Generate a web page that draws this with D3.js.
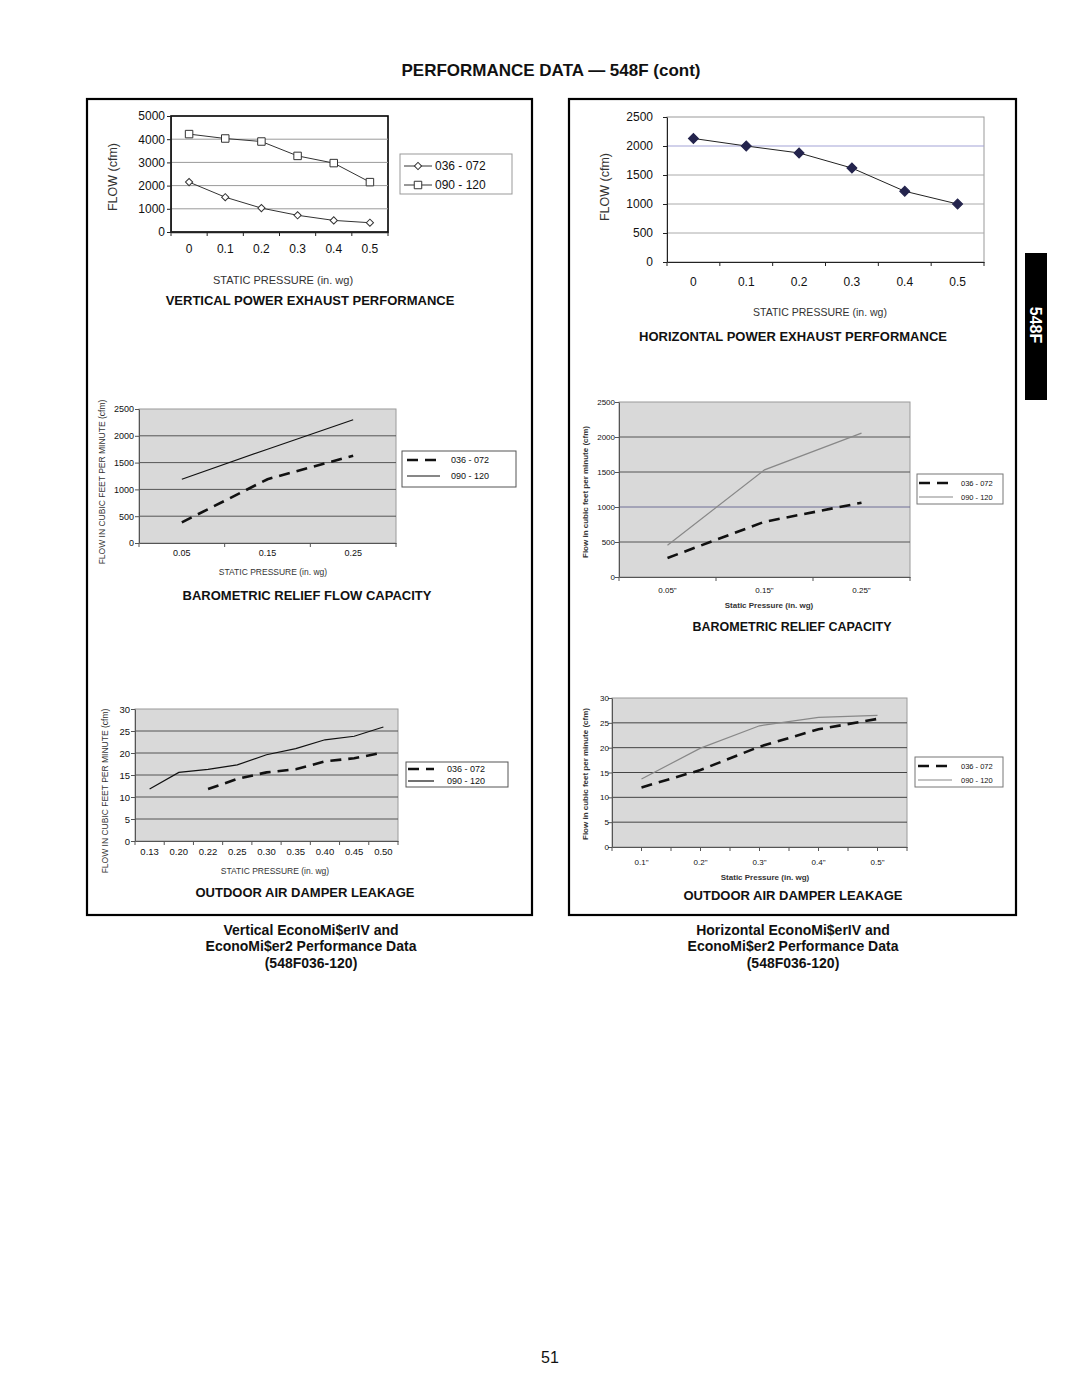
<!DOCTYPE html>
<html>
<head>
<meta charset="utf-8">
<title>Performance Data 548F</title>
<script src="https://d3js.org/d3.v7.min.js"></script>
<style>
    body { margin: 0; background: #fff; }
    svg text { font-family: "Liberation Sans", Arial, Helvetica, sans-serif; fill: #111; }
    .ttl { font-weight: bold; text-anchor: middle; }
    .cap { font-weight: bold; text-anchor: middle; font-size: 14px; }
</style>
</head>
<body>
<script>
// ---- data ----
var vpePressure = ["0", "0.1", "0.2", "0.3", "0.4", "0.5"];
var vpe036 = [2150, 1500, 1030, 720, 500, 400];
var vpe090 = [4220, 4030, 3900, 3280, 2970, 2150];

var hpePressure = ["0", "0.1", "0.2", "0.3", "0.4", "0.5"];
var hpeFlow = [2130, 2000, 1880, 1620, 1220, 1000];

var vbrPressure = ["0.05", "0.15", "0.25"];
var vbr036 = [385, 1190, 1630];
var vbr090 = [1190, 1750, 2300];

var hbrPressure = ['0.05"', '0.15"', '0.25"'];
var hbr036 = [272, 789, 1061];
var hbr090 = [454, 1530, 2055];

var vodPressure = ["0.13", "0.20", "0.22", "0.25", "0.30", "0.35", "0.40", "0.45", "0.50"];
var vod036 = [null, null, 11.8, 14.1, 15.6, 16.3, 18.1, 18.8, 20.1];
var vod090 = [11.8, 15.6, 16.3, 17.3, 19.6, 21.0, 23.0, 23.8, 25.9];

var hodPressure = ['0.1"', '0.2"', '0.3"', '0.4"', '0.5"'];
var hod036 = [12.0, 15.5, 20.2, 23.7, 25.8];
var hod090 = [13.7, 19.9, 24.4, 26.1, 26.5];

var seriesNames = ["036 - 072", "090 - 120"];

var svg = d3.select('body').append('svg')
    .attr('width', 1080)
    .attr('height', 1397);

svg.append('rect').attr('width', 1080).attr('height', 1397).attr('fill', '#fff');

// page heading
svg.append('text').attr('class', 'ttl')
    .attr('x', 551).attr('y', 76).attr('font-size', 17)
    .text('PERFORMANCE DATA \u2014 548F (cont)');

// panels
[[87, 99, 445, 816], [569, 99, 447, 816]].forEach(function(p) {
    svg.append('rect').attr('x', p[0]).attr('y', p[1]).attr('width', p[2]).attr('height', p[3])
        .attr('fill', 'none').attr('stroke', '#000').attr('stroke-width', 2.2);
});

// side tab
svg.append('rect').attr('x', 1025).attr('y', 253).attr('width', 22).attr('height', 147).attr('fill', '#000');
svg.append('text').attr('transform', 'translate(1036,325) rotate(90)')
    .attr('text-anchor', 'middle').attr('dy', '0.35em')
    .attr('font-size', 16).attr('font-weight', 'bold').style('fill', '#fff')
    .text('548F');

function marker(sel, type, size, fill, stroke) {
    var sym = d3.symbol().type(d3.symbolSquare).size(size);
    sel.attr('d', sym())
        .attr('fill', fill).attr('stroke', stroke).attr('stroke-width', 1);
    if (type == 'diamond') sel.attr('transform', sel.attr('transform') + ' rotate(45)');
}

function drawChart(c) {
    var g = svg.append('g');
    var x = d3.scaleBand().domain(c.cats).range([c.left, c.right]);
    var y = d3.scaleLinear().domain([0, c.yMax]).range([c.bottom, c.top]);
    var ticks = d3.range(0, c.yMax + c.yStep / 2, c.yStep);

    g.append('rect')
        .attr('x', c.left).attr('y', c.top)
        .attr('width', c.right - c.left).attr('height', c.bottom - c.top)
        .attr('fill', c.bg).attr('stroke', c.border).attr('stroke-width', c.borderW);

    g.selectAll('.grid').data(ticks.filter(function(t) { return t > 0 && t < c.yMax; }))
        .enter().append('line')
        .attr('x1', c.left).attr('x2', c.right)
        .attr('y1', function(d) { return y(d); }).attr('y2', function(d) { return y(d); })
        .attr('stroke', function(d) { return (c.gridSpecial && c.gridSpecial[0] == d) ? c.gridSpecial[1] : c.grid; })
        .attr('stroke-width', 1);

    // y axis
    var ya = g.append('g').attr('transform', 'translate(' + c.left + ',0)')
        .call(d3.axisLeft(y).tickValues(ticks).tickSize(4).tickSizeOuter(0)
            .tickPadding(c.left - c.yLabRight - 4).tickFormat(d3.format('d')));
    ya.attr('font-family', null).attr('font-size', c.fs);
    ya.select('.domain').attr('stroke', c.axisCol);
    ya.selectAll('.tick line').attr('stroke', c.axisCol);

    // x axis: labels at band centres, ticks on the band edges
    var xa = g.append('g').attr('transform', 'translate(0,' + c.bottom + ')')
        .call(d3.axisBottom(x).tickSize(0).tickSizeOuter(0)
            .tickPadding(c.xLabY - 0.35 * c.fs - c.bottom));
    xa.attr('font-family', null).attr('font-size', c.fs);
    xa.select('.domain').attr('stroke', c.axisCol).attr('stroke-width', c.xAxisW || 1);
    var edges = d3.range(0, c.cats.length + 1);
    if (c.halfTicks) edges = d3.range(0, c.cats.length + 0.5, 0.5);
    g.selectAll('.xt').data(edges).enter().append('line')
        .attr('x1', function(d) { return c.left + d * x.step(); })
        .attr('x2', function(d) { return c.left + d * x.step(); })
        .attr('y1', c.bottom).attr('y2', c.bottom + 4)
        .attr('stroke', c.axisCol);

    // series
    c.series.forEach(function(s) {
        var line = d3.line()
            .defined(function(d) { return d != null; })
            .x(function(d, i) { return x(c.cats[i]) + x.bandwidth() / 2; })
            .y(function(d) { return y(d); });
        g.append('path').datum(s.values)
            .attr('d', line).attr('fill', 'none')
            .attr('stroke', s.color).attr('stroke-width', s.width)
            .attr('stroke-dasharray', s.dash || null);
        if (s.marker) {
            g.selectAll(null).data(s.values).enter().append('path')
                .attr('transform', function(d, i) {
                    return 'translate(' + (x(c.cats[i]) + x.bandwidth() / 2) + ',' + y(d) + ')';
                })
                .each(function() {
                    marker(d3.select(this), s.marker, s.msize, s.mfill, s.mstroke);
                });
        }
    });

    // texts
    g.append('text')
        .attr('transform', 'translate(' + c.yTitle[0] + ',' + c.yTitle[1] + ') rotate(-90)')
        .attr('text-anchor', 'middle').attr('dy', '0.35em')
        .attr('font-size', c.yTitleFs).attr('font-weight', c.labBold ? 'bold' : null)
        .style('fill', '#333')
        .text(c.yTitleText);
    g.append('text')
        .attr('x', c.xTitle[0]).attr('y', c.xTitle[1]).attr('dy', '0.35em')
        .attr('text-anchor', 'middle')
        .attr('font-size', c.xTitleFs).attr('font-weight', c.labBold ? 'bold' : null)
        .style('fill', '#333')
        .text(c.xTitleText);
    g.append('text').attr('class', 'ttl')
        .attr('x', c.title[0]).attr('y', c.title[1]).attr('dy', '0.35em')
        .attr('font-size', c.titleFs)
        .text(c.titleText);

    // legend
    var L = c.legend;
    g.append('rect').attr('x', L.x).attr('y', L.y).attr('width', L.w).attr('height', L.h)
        .attr('fill', '#fff').attr('stroke', L.stroke).attr('stroke-width', 1);
    c.series.forEach(function(s, i) {
        if (!s.name) return;
        var ly = L.rows[i];
        g.append('line').attr('x1', L.lx[0]).attr('x2', L.lx[1]).attr('y1', ly).attr('y2', ly)
            .attr('stroke', s.color).attr('stroke-width', s.width)
            .attr('stroke-dasharray', s.dash || null);
        if (s.marker) {
            var m = g.append('path').attr('transform', 'translate(' + ((L.lx[0] + L.lx[1]) / 2) + ',' + ly + ')');
            marker(m, s.marker, s.msize, s.mfill, s.mstroke);
        }
        g.append('text').attr('x', L.tx).attr('y', ly).attr('dy', '0.35em')
            .attr('font-size', L.fs).text(s.name);
    });
}

// ---- left column ----
drawChart({
    cats: vpePressure, yMax: 5000, yStep: 1000,
    left: 171, right: 388, top: 116, bottom: 232,
    bg: '#fff', border: '#000', borderW: 1.6, grid: '#9a9a9a', axisCol: '#222', xAxisW: 1.6,
    fs: 12, yLabRight: 165, xLabY: 249,
    series: [
        {name: seriesNames[0], values: vpe036, color: '#333', width: 1, marker: 'diamond', msize: 26, mfill: '#fff', mstroke: '#333'},
        {name: seriesNames[1], values: vpe090, color: '#333', width: 1, marker: 'square', msize: 56, mfill: '#fff', mstroke: '#333'}
    ],
    yTitle: [113, 177], yTitleFs: 12.5, yTitleText: 'FLOW (cfm)',
    xTitle: [283, 280], xTitleFs: 11, xTitleText: 'STATIC PRESSURE (in. wg)',
    title: [310, 300], titleFs: 13, titleText: 'VERTICAL POWER EXHAUST PERFORMANCE',
    legend: {x: 400, y: 154, w: 112, h: 40, stroke: '#999', rows: [166, 185], lx: [404, 432], tx: 435, fs: 12}
});

drawChart({
    cats: vbrPressure, yMax: 2500, yStep: 500,
    left: 139, right: 396, top: 409, bottom: 543,
    bg: '#d9d9d9', border: '#9a9a9a', borderW: 1, grid: '#555', axisCol: '#555',
    fs: 9, yLabRight: 134, xLabY: 553,
    series: [
        {name: seriesNames[0], values: vbr036, color: '#111', width: 2.6, dash: '11,7'},
        {name: seriesNames[1], values: vbr090, color: '#111', width: 1.2}
    ],
    yTitle: [102, 482], yTitleFs: 8.5, yTitleText: 'FLOW IN CUBIC FEET PER MINUTE (cfm)',
    xTitle: [273, 572], xTitleFs: 8.5, xTitleText: 'STATIC PRESSURE (in. wg)',
    title: [307, 595], titleFs: 13, titleText: 'BAROMETRIC RELIEF FLOW CAPACITY',
    legend: {x: 402, y: 451, w: 114, h: 36, stroke: '#555', rows: [460, 476], lx: [407, 440], tx: 451, fs: 9}
});

drawChart({
    cats: vodPressure, yMax: 30, yStep: 5,
    left: 135, right: 398, top: 709, bottom: 841,
    bg: '#d9d9d9', border: '#9a9a9a', borderW: 1, grid: '#555', axisCol: '#555',
    fs: 9.5, yLabRight: 130, xLabY: 852,
    series: [
        {name: seriesNames[0], values: vod036, color: '#111', width: 2.6, dash: '11,7'},
        {name: seriesNames[1], values: vod090, color: '#111', width: 1.2}
    ],
    yTitle: [105, 791], yTitleFs: 8.5, yTitleText: 'FLOW IN CUBIC FEET PER MINUTE (cfm)',
    xTitle: [275, 871], xTitleFs: 8.5, xTitleText: 'STATIC PRESSURE (in. wg)',
    title: [305, 892], titleFs: 13, titleText: 'OUTDOOR AIR DAMPER LEAKAGE',
    legend: {x: 406, y: 762, w: 102, h: 25, stroke: '#555', rows: [769, 781], lx: [408, 434], tx: 447, fs: 9}
});

// ---- right column ----
drawChart({
    cats: hpePressure, yMax: 2500, yStep: 500,
    left: 667, right: 984, top: 117, bottom: 262,
    bg: '#fff', border: '#999', borderW: 1, grid: '#aaa', gridSpecial: [2000, '#a3a3d6'], axisCol: '#222',
    fs: 12, yLabRight: 653, xLabY: 282,
    series: [
        {name: null, values: hpeFlow, color: '#222', width: 1, marker: 'diamond', msize: 50, mfill: '#24244d', mstroke: '#24244d'}
    ],
    yTitle: [605, 187], yTitleFs: 12.5, yTitleText: 'FLOW (cfm)',
    xTitle: [820, 312], xTitleFs: 10.5, xTitleText: 'STATIC PRESSURE (in. wg)',
    title: [793, 336], titleFs: 13, titleText: 'HORIZONTAL POWER EXHAUST PERFORMANCE',
    legend: {x: 0, y: 0, w: 0, h: 0, stroke: 'none', rows: [], lx: [0, 0], tx: 0, fs: 0}
});

drawChart({
    cats: hbrPressure, yMax: 2500, yStep: 500,
    left: 619, right: 910, top: 402, bottom: 577,
    bg: '#d9d9d9', border: '#9a9a9a', borderW: 1, grid: '#555', gridSpecial: [1000, '#6e6e96'], axisCol: '#555',
    fs: 8, yLabRight: 615, xLabY: 590, labBold: true,
    series: [
        {name: seriesNames[0], values: hbr036, color: '#111', width: 2.6, dash: '11,7'},
        {name: seriesNames[1], values: hbr090, color: '#888', width: 1.2}
    ],
    yTitle: [585, 492], yTitleFs: 8, yTitleText: 'Flow in cubic feet per minute (cfm)',
    xTitle: [769, 605], xTitleFs: 8, xTitleText: 'Static Pressure (in. wg)',
    title: [792, 627], titleFs: 12.5, titleText: 'BAROMETRIC RELIEF CAPACITY',
    legend: {x: 917, y: 474, w: 86, h: 30, stroke: '#777', rows: [483, 497], lx: [919, 953], tx: 961, fs: 7.5}
});

drawChart({
    cats: hodPressure, yMax: 30, yStep: 5, halfTicks: true,
    left: 612, right: 907, top: 698, bottom: 847,
    bg: '#d9d9d9', border: '#9a9a9a', borderW: 1, grid: '#444', axisCol: '#555',
    fs: 8, yLabRight: 609, xLabY: 862, labBold: true,
    series: [
        {name: seriesNames[0], values: hod036, color: '#111', width: 2.6, dash: '11,7'},
        {name: seriesNames[1], values: hod090, color: '#888', width: 1.2}
    ],
    yTitle: [585, 774], yTitleFs: 8, yTitleText: 'Flow in cubic feet per minute (cfm)',
    xTitle: [765, 877], xTitleFs: 8, xTitleText: 'Static Pressure (in. wg)',
    title: [793, 895], titleFs: 13, titleText: 'OUTDOOR AIR DAMPER LEAKAGE',
    legend: {x: 915, y: 757, w: 88, h: 30, stroke: '#777', rows: [766, 780], lx: [918, 952], tx: 961, fs: 7.5}
});

// captions under the panels
var capLeft = ['Vertical EconoMi$erIV and', 'EconoMi$er2 Performance Data', '(548F036-120)'];
var capRight = ['Horizontal EconoMi$erIV and', 'EconoMi$er2 Performance Data', '(548F036-120)'];
[[311, capLeft], [793, capRight]].forEach(function(c) {
    svg.selectAll(null).data(c[1]).enter().append('text').attr('class', 'cap')
        .attr('x', c[0]).attr('y', function(d, i) { return 930 + i * 16.5; }).attr('dy', '0.35em')
        .text(function(d) { return d; });
});

svg.append('text').attr('x', 550).attr('y', 1357).attr('dy', '0.35em')
    .attr('text-anchor', 'middle').attr('font-size', 16).text('51');
</script>
</body>
</html>
